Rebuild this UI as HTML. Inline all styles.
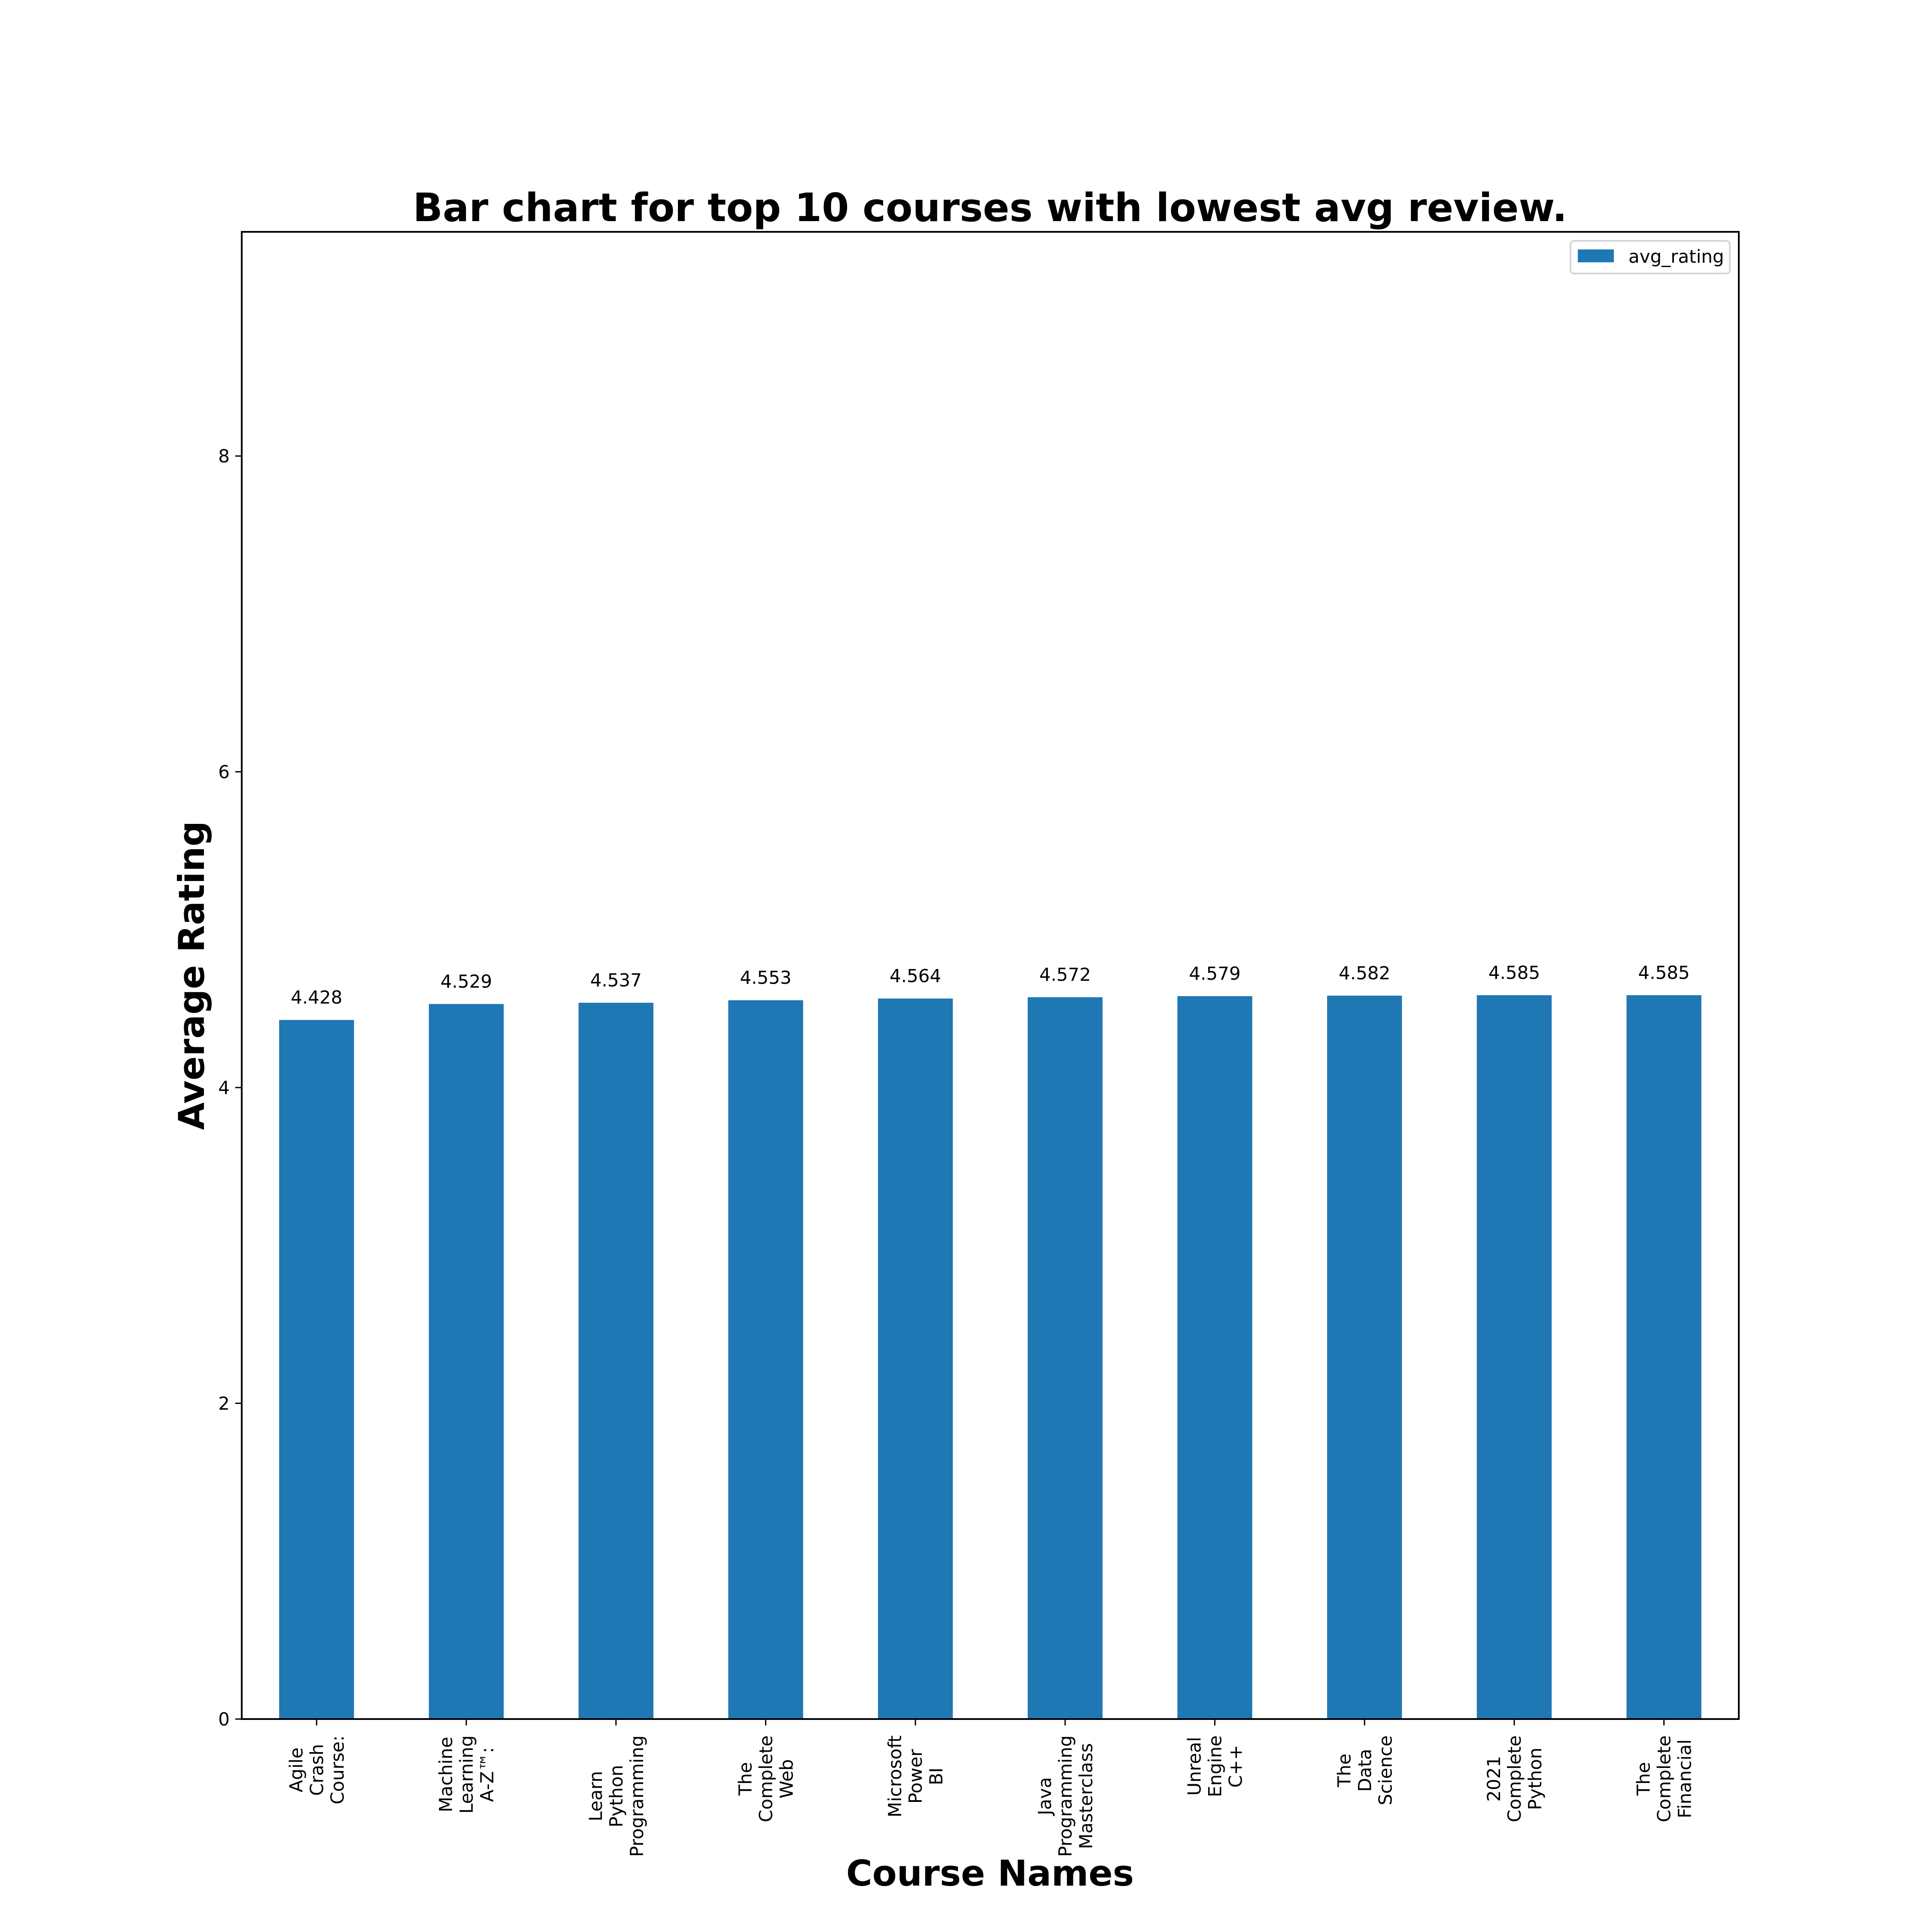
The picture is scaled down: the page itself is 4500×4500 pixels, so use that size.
<!DOCTYPE html>
<html><head><meta charset="utf-8"><style>
html,body{margin:0;padding:0;background:#fff;}
svg{display:block;font-family:"DejaVu Sans","Liberation Sans",sans-serif;}
</style></head><body>
<svg id="chart" width="4500" height="4500" viewBox="0 0 4500 4500" xmlns="http://www.w3.org/2000/svg">
<rect width="4500" height="4500" fill="#fff"/>
<text x="2306" y="515" text-anchor="middle" font-size="91" font-weight="bold">Bar chart for top 10 courses with lowest avg review.</text>
<g id="bars"></g>
<g id="yaxis"></g>
<g id="xaxis"></g>
<rect x="563" y="540" width="3487" height="3464" fill="none" stroke="#000" stroke-width="4"/>
<text transform="translate(475,2272) rotate(-90)" text-anchor="middle" font-size="83" font-weight="bold">Average Rating</text>
<text x="2306" y="4392" text-anchor="middle" font-size="83" font-weight="bold">Course Names</text>
<g>
<rect x="3658" y="561" width="371" height="76" rx="8" fill="#fff" stroke="#d6d6d6" stroke-width="4"/>
<rect x="3675" y="581" width="84" height="30" fill="#1f77b4"/>
<text x="3793" y="612" font-size="42">avg_rating</text>
</g>
</svg>
<script>
const categories = [["Agile","Crash","Course:"],["Machine","Learning","A-Z™:"],["Learn","Python","Programming"],["The","Complete","Web"],["Microsoft","Power","BI"],["Java","Programming","Masterclass"],["Unreal","Engine","C++"],["The","Data","Science"],["2021","Complete","Python"],["The","Complete","Financial"]];
const ratings = [4.428,4.529,4.537,4.553,4.564,4.572,4.579,4.582,4.585,4.585];
const valueLabels = ["4.428","4.529","4.537","4.553","4.564","4.572","4.579","4.582","4.585","4.585"];
const yTicks = [0,2,4,6,8];

const NS = "http://www.w3.org/2000/svg";
const L = 563, R = 4050, T = 540, B = 4004;
const yMax = 9.42;
const n = categories.length;
const step = (R - L) / n;
function xScale(i){ return L + step * (i + 0.5); }
function yScale(v){ return B - (B - T) * v / yMax; }
function mk(tag, attrs, parent){ const e = document.createElementNS(NS, tag); for (const k in attrs) e.setAttribute(k, attrs[k]); parent.appendChild(e); return e; }

const bars = document.getElementById('bars');
const yaxis = document.getElementById('yaxis');
const xaxis = document.getElementById('xaxis');
const bw = step * 0.5;

ratings.forEach((v, i) => {
  const cx = xScale(i);
  const r = mk('rect', {x: cx - bw/2, y: yScale(v), width: bw, height: B - yScale(v), fill: '#1f77b4'}, bars);
  
  
  const t = mk('text', {x: cx, y: yScale(v) - 38, 'text-anchor': 'middle', 'font-size': 42}, bars);
  t.textContent = valueLabels[i];
  
  
});

yTicks.forEach(v => {
  const y = yScale(v);
  const tk = mk('line', {x1: L - 15, x2: L, y1: y, y2: y, stroke: '#000', 'stroke-width': 3}, yaxis);
  
  
  const t = mk('text', {x: L - 28, y: y + 15, 'text-anchor': 'end', 'font-size': 42}, yaxis);
  t.textContent = String(v);
  
  
});

categories.forEach((lines, i) => {
  const cx = xScale(i);
  const tk = mk('line', {x1: cx, x2: cx, y1: B, y2: B + 15, stroke: '#000', 'stroke-width': 3}, xaxis);
  
  
  const g = mk('g', {transform: 'translate(' + cx + ',4042) rotate(-90)'}, xaxis);
  
  
  const texts = lines.map((s, j) => {
    const t = mk('text', {y: (j - (lines.length-1)/2) * 48 + 15, 'text-anchor': 'middle', 'font-size': 42}, g);
    t.textContent = s;
    return t;
  });
  let maxLen = 0;
  texts.forEach(t => { maxLen = Math.max(maxLen, t.getComputedTextLength()); });
  texts.forEach(t => t.setAttribute('x', -maxLen/2));
});
</script>
</body></html>
